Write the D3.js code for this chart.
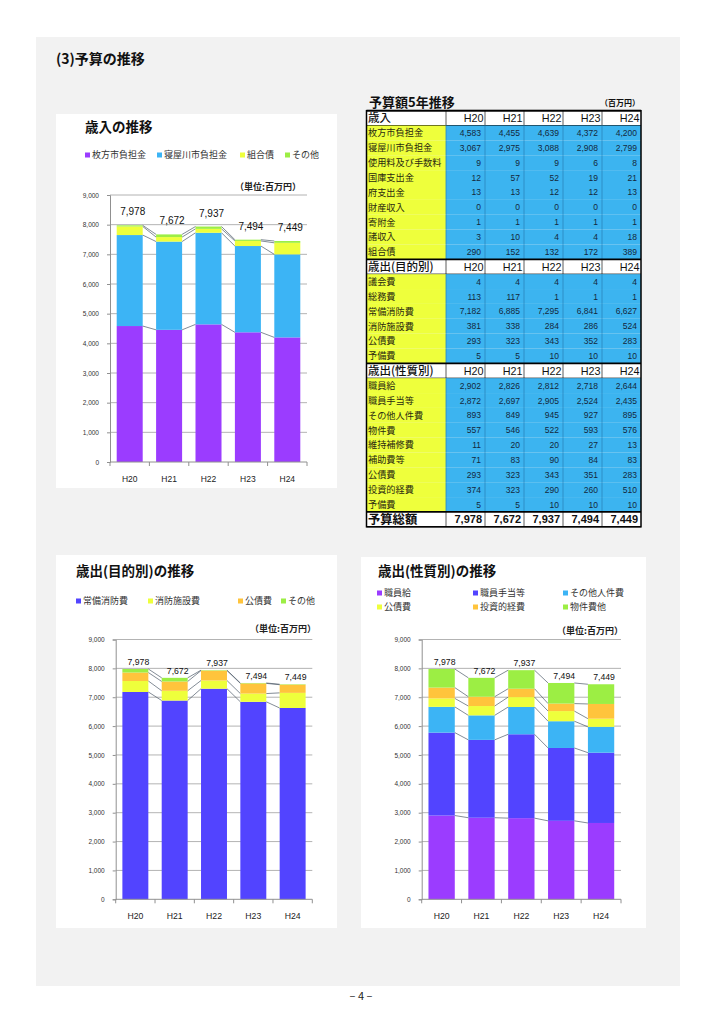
<!DOCTYPE html>
<html><head><meta charset="utf-8">
<script src="https://cdn.jsdelivr.net/npm/d3@7"></script>
<style>body{margin:0;background:#fff}svg{display:block}</style>
</head><body>
<script>
// ---------- DATA ----------
const years = ["H20","H21","H22","H23","H24"];
const totals = [7978,7672,7937,7494,7449];
// 歳入
const revHirakata = [4583,4455,4639,4372,4200];
const revNeyagawa = [3067,2975,3088,2908,2799];
const revFees = [9,9,9,6,8];
const revNational = [12,57,52,19,21];
const revPrefecture = [13,13,12,12,13];
const revProperty = [0,0,0,0,0];
const revDonation = [1,1,1,1,1];
const revMisc = [3,10,4,4,18];
const revBonds = [290,152,132,172,389];
// 歳出（目的別）
const expCouncil = [4,4,4,4,4];
const expGeneral = [113,117,1,1,1];
const expFireService = [7182,6885,7295,6841,6627];
const expFacilities = [381,338,284,286,524];
const expDebt = [293,323,343,352,283];
const expReserve = [5,5,10,10,10];
// 歳出（性質別）
const natSalary = [2902,2826,2812,2718,2644];
const natAllowance = [2872,2697,2905,2524,2435];
const natOtherPersonnel = [893,849,945,927,895];
const natGoods = [557,546,522,593,576];
const natMaintenance = [11,20,20,27,13];
const natSubsidy = [71,83,90,84,83];
const natDebt = [293,323,343,351,283];
const natInvestment = [374,323,290,260,510];
const natReserve = [5,5,10,10,10];
const yTicks = [0,1000,2000,3000,4000,5000,6000,7000,8000,9000];

// ---------- SETUP ----------
const JP = "'Noto Sans CJK JP','Noto Sans',sans-serif";
const NUM = "'Liberation Sans',Arial,sans-serif";
const fmt = d3.format(",");
const sumArr = (...arrs) => years.map((_, i) => d3.sum(arrs, a => a[i]));

const svg = d3.select("body").append("svg").attr("width",723).attr("height",1024);
svg.append("rect").attr("width",723).attr("height",1024).attr("fill","#fff");
svg.append("rect").attr("x",36).attr("y",37).attr("width",644).attr("height",949).attr("fill","#f2f2f2");
svg.append("text").attr("x",56).attr("y",64).text("(3)予算の推移")
  .attr("font-family",JP).attr("font-weight","bold").attr("font-size",14).attr("fill","#111");
svg.append("text").attr("x",361).attr("y",1000).attr("text-anchor","middle").text("– 4 –")
  .attr("font-family",JP).attr("font-size",11).attr("fill","#222");

// ---------- CHART ----------
function drawChart(cfg){
  const g = svg.append("g");
  g.append("rect").attr("x",cfg.box[0]).attr("y",cfg.box[1]).attr("width",cfg.box[2]).attr("height",cfg.box[3]).attr("fill","#fff");
  g.append("text").attr("x",cfg.title[0]).attr("y",cfg.title[1]).text(cfg.title[2])
    .attr("font-family",JP).attr("font-weight","bold").attr("font-size",13.5).attr("fill","#111");
  cfg.series.forEach((s,i)=>{
    const [lx,ly] = cfg.legendPos[i];
    g.append("rect").attr("x",lx).attr("y",ly-2.5).attr("width",5).attr("height",5).attr("fill",s.color);
    g.append("text").attr("x",lx+7).attr("y",ly+3.3).text(s.name)
      .attr("font-family",JP).attr("font-size",9).attr("fill","#333");
  });
  g.append("text").attr("x",cfg.unit[0]).attr("y",cfg.unit[1]).attr("text-anchor","end").text("（単位:百万円）")
    .attr("font-family",JP).attr("font-weight","bold").attr("font-size",9).attr("fill","#222");

  const p = cfg.plot;
  const x = d3.scaleBand().domain(years).range([p.x0,p.x1]).paddingInner(0.34).paddingOuter(0.17);
  const y = d3.scaleLinear().domain([0,9000]).range([p.y0,p.y9]);
  const bw = x.bandwidth();

  // gridlines
  g.append("g").selectAll("line").data(yTicks.filter(d=>d>0)).join("line")
    .attr("x1",p.x0).attr("x2",p.x1).attr("y1",d=>y(d)).attr("y2",d=>y(d))
    .attr("stroke","#a0a0a0").attr("stroke-width",0.8);

  // y axis
  const ya = g.append("g").attr("transform",`translate(${p.x0},0)`)
    .call(d3.axisLeft(y).tickValues(yTicks).tickSize(3).tickPadding(8).tickFormat(fmt));
  ya.select(".domain").attr("stroke","#909090");
  ya.selectAll(".tick line").attr("stroke","#909090");
  ya.selectAll("text").attr("font-family",NUM).attr("font-size",cfg.tickFont).attr("fill","#333");

  // stacked bars
  const rows = years.map((yr,i)=>{ const o={year:yr}; cfg.series.forEach(s=>o[s.name]=s.values[i]); return o; });
  const stack = d3.stack().keys(cfg.series.map(s=>s.name))(rows);
  stack.forEach((layer,li)=>{
    g.append("g").selectAll("rect").data(layer).join("rect")
      .attr("x",d=>x(d.data.year)).attr("width",bw)
      .attr("y",d=>y(d[1])).attr("height",d=>y(d[0])-y(d[1]))
      .attr("fill",cfg.series[li].color);
    // connector lines
    const segs = layer.slice(0,-1).map((d,i)=>[d,layer[i+1]]);
    g.append("g").selectAll("line").data(segs).join("line")
      .attr("x1",s=>x(s[0].data.year)+bw).attr("y1",s=>y(s[0][1]))
      .attr("x2",s=>x(s[1].data.year)).attr("y2",s=>y(s[1][1]))
      .attr("stroke","#4d5a68").attr("stroke-width",0.7);
  });

  // x axis
  g.append("line").attr("x1",p.x0).attr("x2",p.x1).attr("y1",p.y0).attr("y2",p.y0).attr("stroke","#909090");
  g.append("g").selectAll("line").data(d3.range(years.length+1)).join("line")
    .attr("x1",i=>p.x0+i*x.step()).attr("x2",i=>p.x0+i*x.step())
    .attr("y1",p.y0).attr("y2",p.y0+4).attr("stroke","#909090");
  g.append("g").selectAll("text").data(years).join("text")
    .attr("x",d=>x(d)+bw/2).attr("y",p.y0+19.5).attr("text-anchor","middle").text(d=>d)
    .attr("font-family",NUM).attr("font-size",cfg.catFont).attr("fill","#222");

  // totals
  g.append("g").selectAll("text").data(years).join("text")
    .attr("x",(d,i)=>x(d)+bw/2+3).attr("y",(d,i)=>y(totals[i])+cfg.labelDy)
    .attr("text-anchor","middle").text((d,i)=>fmt(totals[i]))
    .attr("font-family",NUM).attr("font-size",cfg.labelFont).attr("fill","#111");
}

const C_PURPLE="#9b3cff", C_SKY="#3cb4f5", C_YEL="#eeff3c", C_GRN="#9cee44", C_IND="#5244ff", C_ORG="#ffc43c";

drawChart({
  box:[56,114,281,374], title:[85,132,"歳入の推移"],
  series:[
    {name:"枚方市負担金",values:revHirakata,color:C_PURPLE},
    {name:"寝屋川市負担金",values:revNeyagawa,color:C_SKY},
    {name:"組合債",values:revBonds,color:C_YEL},
    {name:"その他",values:sumArr(revFees,revNational,revPrefecture,revProperty,revDonation,revMisc),color:C_GRN}
  ],
  legendPos:[[85,155],[157,155],[240,155],[285,155]],
  unit:[301,189.5],
  plot:{x0:110,x1:307,y0:462,y9:195},
  tickFont:6.5, catFont:8.5, labelFont:10, labelDy:-10
});

drawChart({
  box:[56,555,281,373], title:[76,576,"歳出(目的別)の推移"],
  series:[
    {name:"常備消防費",values:expFireService,color:C_IND},
    {name:"消防施設費",values:expFacilities,color:C_YEL},
    {name:"公債費",values:expDebt,color:C_ORG},
    {name:"その他",values:sumArr(expCouncil,expGeneral,expReserve),color:C_GRN}
  ],
  legendPos:[[76,601],[148,601],[238,601],[281,601]],
  unit:[316,631.5],
  plot:{x0:115.7,x1:312.3,y0:899.3,y9:639.5},
  tickFont:6.5, catFont:8.7, labelFont:8.7, labelDy:-4
});

drawChart({
  box:[361,557,285,371], title:[378,576,"歳出(性質別)の推移"],
  series:[
    {name:"職員給",values:natSalary,color:C_PURPLE},
    {name:"職員手当等",values:natAllowance,color:C_IND},
    {name:"その他人件費",values:natOtherPersonnel,color:C_SKY},
    {name:"公債費",values:natDebt,color:C_YEL},
    {name:"投資的経費",values:natInvestment,color:C_ORG},
    {name:"物件費他",values:sumArr(natGoods,natMaintenance,natSubsidy,natReserve),color:C_GRN}
  ],
  legendPos:[[377,593],[473,593],[563,593],[377,607],[473,607],[563,607]],
  unit:[623,634],
  plot:{x0:421.7,x1:621,y0:899.3,y9:639.5},
  tickFont:6.5, catFont:8.7, labelFont:8.7, labelDy:-4
});

// ---------- TABLE ----------
const tableRows = [
  {type:"header",label:"歳入"},
  {label:"枚方市負担金",values:revHirakata},
  {label:"寝屋川市負担金",values:revNeyagawa},
  {label:"使用料及び手数料",values:revFees},
  {label:"国庫支出金",values:revNational},
  {label:"府支出金",values:revPrefecture},
  {label:"財産収入",values:revProperty},
  {label:"寄附金",values:revDonation},
  {label:"諸収入",values:revMisc},
  {label:"組合債",values:revBonds},
  {type:"header",label:"歳出(目的別)"},
  {label:"議会費",values:expCouncil},
  {label:"総務費",values:expGeneral},
  {label:"常備消防費",values:expFireService},
  {label:"消防施設費",values:expFacilities},
  {label:"公債費",values:expDebt},
  {label:"予備費",values:expReserve},
  {type:"header",label:"歳出(性質別)"},
  {label:"職員給",values:natSalary},
  {label:"職員手当等",values:natAllowance},
  {label:"その他人件費",values:natOtherPersonnel},
  {label:"物件費",values:natGoods},
  {label:"維持補修費",values:natMaintenance},
  {label:"補助費等",values:natSubsidy},
  {label:"公債費",values:natDebt},
  {label:"投資的経費",values:natInvestment},
  {label:"予備費",values:natReserve},
  {type:"total",label:"予算総額",values:totals}
];
(function drawTable(){
  const g = svg.append("g");
  const TL=366.5, TR=641, LC=446, TT=110.7, TB=526.8;
  const cx = d3.scaleBand().domain(years).range([LC,TR]);
  const ry = d3.scaleBand().domain(d3.range(tableRows.length)).range([TT,TB]);
  const rh = ry.bandwidth();

  g.append("text").attr("x",369).attr("y",107).text("予算額5年推移")
    .attr("font-family",JP).attr("font-weight","bold").attr("font-size",13).attr("fill","#111");
  g.append("text").attr("x",640).attr("y",106).attr("text-anchor","end").text("（百万円）")
    .attr("font-family",JP).attr("font-weight","bold").attr("font-size",8).attr("fill","#111");

  tableRows.forEach((r,ri)=>{
    const y0 = ry(ri), yc = y0+rh/2;
    const isData = !r.type;
    g.append("rect").attr("x",TL).attr("y",y0).attr("width",LC-TL).attr("height",rh)
      .attr("fill",isData?"#eeff3c":"#fff");
    g.append("g").selectAll("rect").data(years).join("rect")
      .attr("x",d=>cx(d)).attr("y",y0).attr("width",cx.bandwidth()).attr("height",rh)
      .attr("fill",isData?"#3cb4f0":"#fff");
    // label
    const lf = r.type==="header"?11.5:(r.type==="total"?12.3:9.2);
    g.append("text").attr("x",368).attr("y",yc+lf*0.37).text(r.label)
      .attr("font-family",JP).attr("font-size",lf)
      .attr("font-weight",r.type==="total"?"bold":(r.type==="header"?500:"normal"))
      .attr("fill",isData?"#2a2a10":"#111");
    // values
    if(r.type==="header"){
      g.append("g").selectAll("text").data(years).join("text")
        .attr("x",d=>cx(d)+cx.bandwidth()-1.5).attr("y",yc+3.9).attr("text-anchor","end").text(d=>d)
        .attr("font-family",NUM).attr("font-size",10.8).attr("fill","#111");
    } else {
      const f = r.type==="total"?11:8.5;
      g.append("g").selectAll("text").data(r.values).join("text")
        .attr("x",(d,i)=>cx(years[i])+cx.bandwidth()-(r.type==="total"?3:4)).attr("y",yc+f*0.36)
        .attr("text-anchor","end").text(d=>fmt(d))
        .attr("font-family",NUM).attr("font-size",f).attr("font-weight",r.type==="total"?"bold":"normal")
        .attr("fill",isData?"#14283c":"#111");
    }
    // vertical separators
    g.append("g").selectAll("line").data(years).join("line")
      .attr("x1",d=>cx(d)).attr("x2",d=>cx(d)).attr("y1",y0).attr("y2",y0+rh)
      .attr("stroke",isData?"#2a86bd":"#333").attr("stroke-width",0.8);
    if(!isData){
      g.append("line").attr("x1",TL).attr("x2",TR).attr("y1",y0).attr("y2",y0).attr("stroke","#000").attr("stroke-width",1.8);
      g.append("line").attr("x1",TL).attr("x2",TR).attr("y1",y0+rh).attr("y2",y0+rh).attr("stroke","#000").attr("stroke-width",1);
    }
  });
  g.append("rect").attr("x",TL).attr("y",TT).attr("width",TR-TL).attr("height",TB-TT)
    .attr("fill","none").attr("stroke","#000").attr("stroke-width",1.5);
})();
</script>
</body></html>
